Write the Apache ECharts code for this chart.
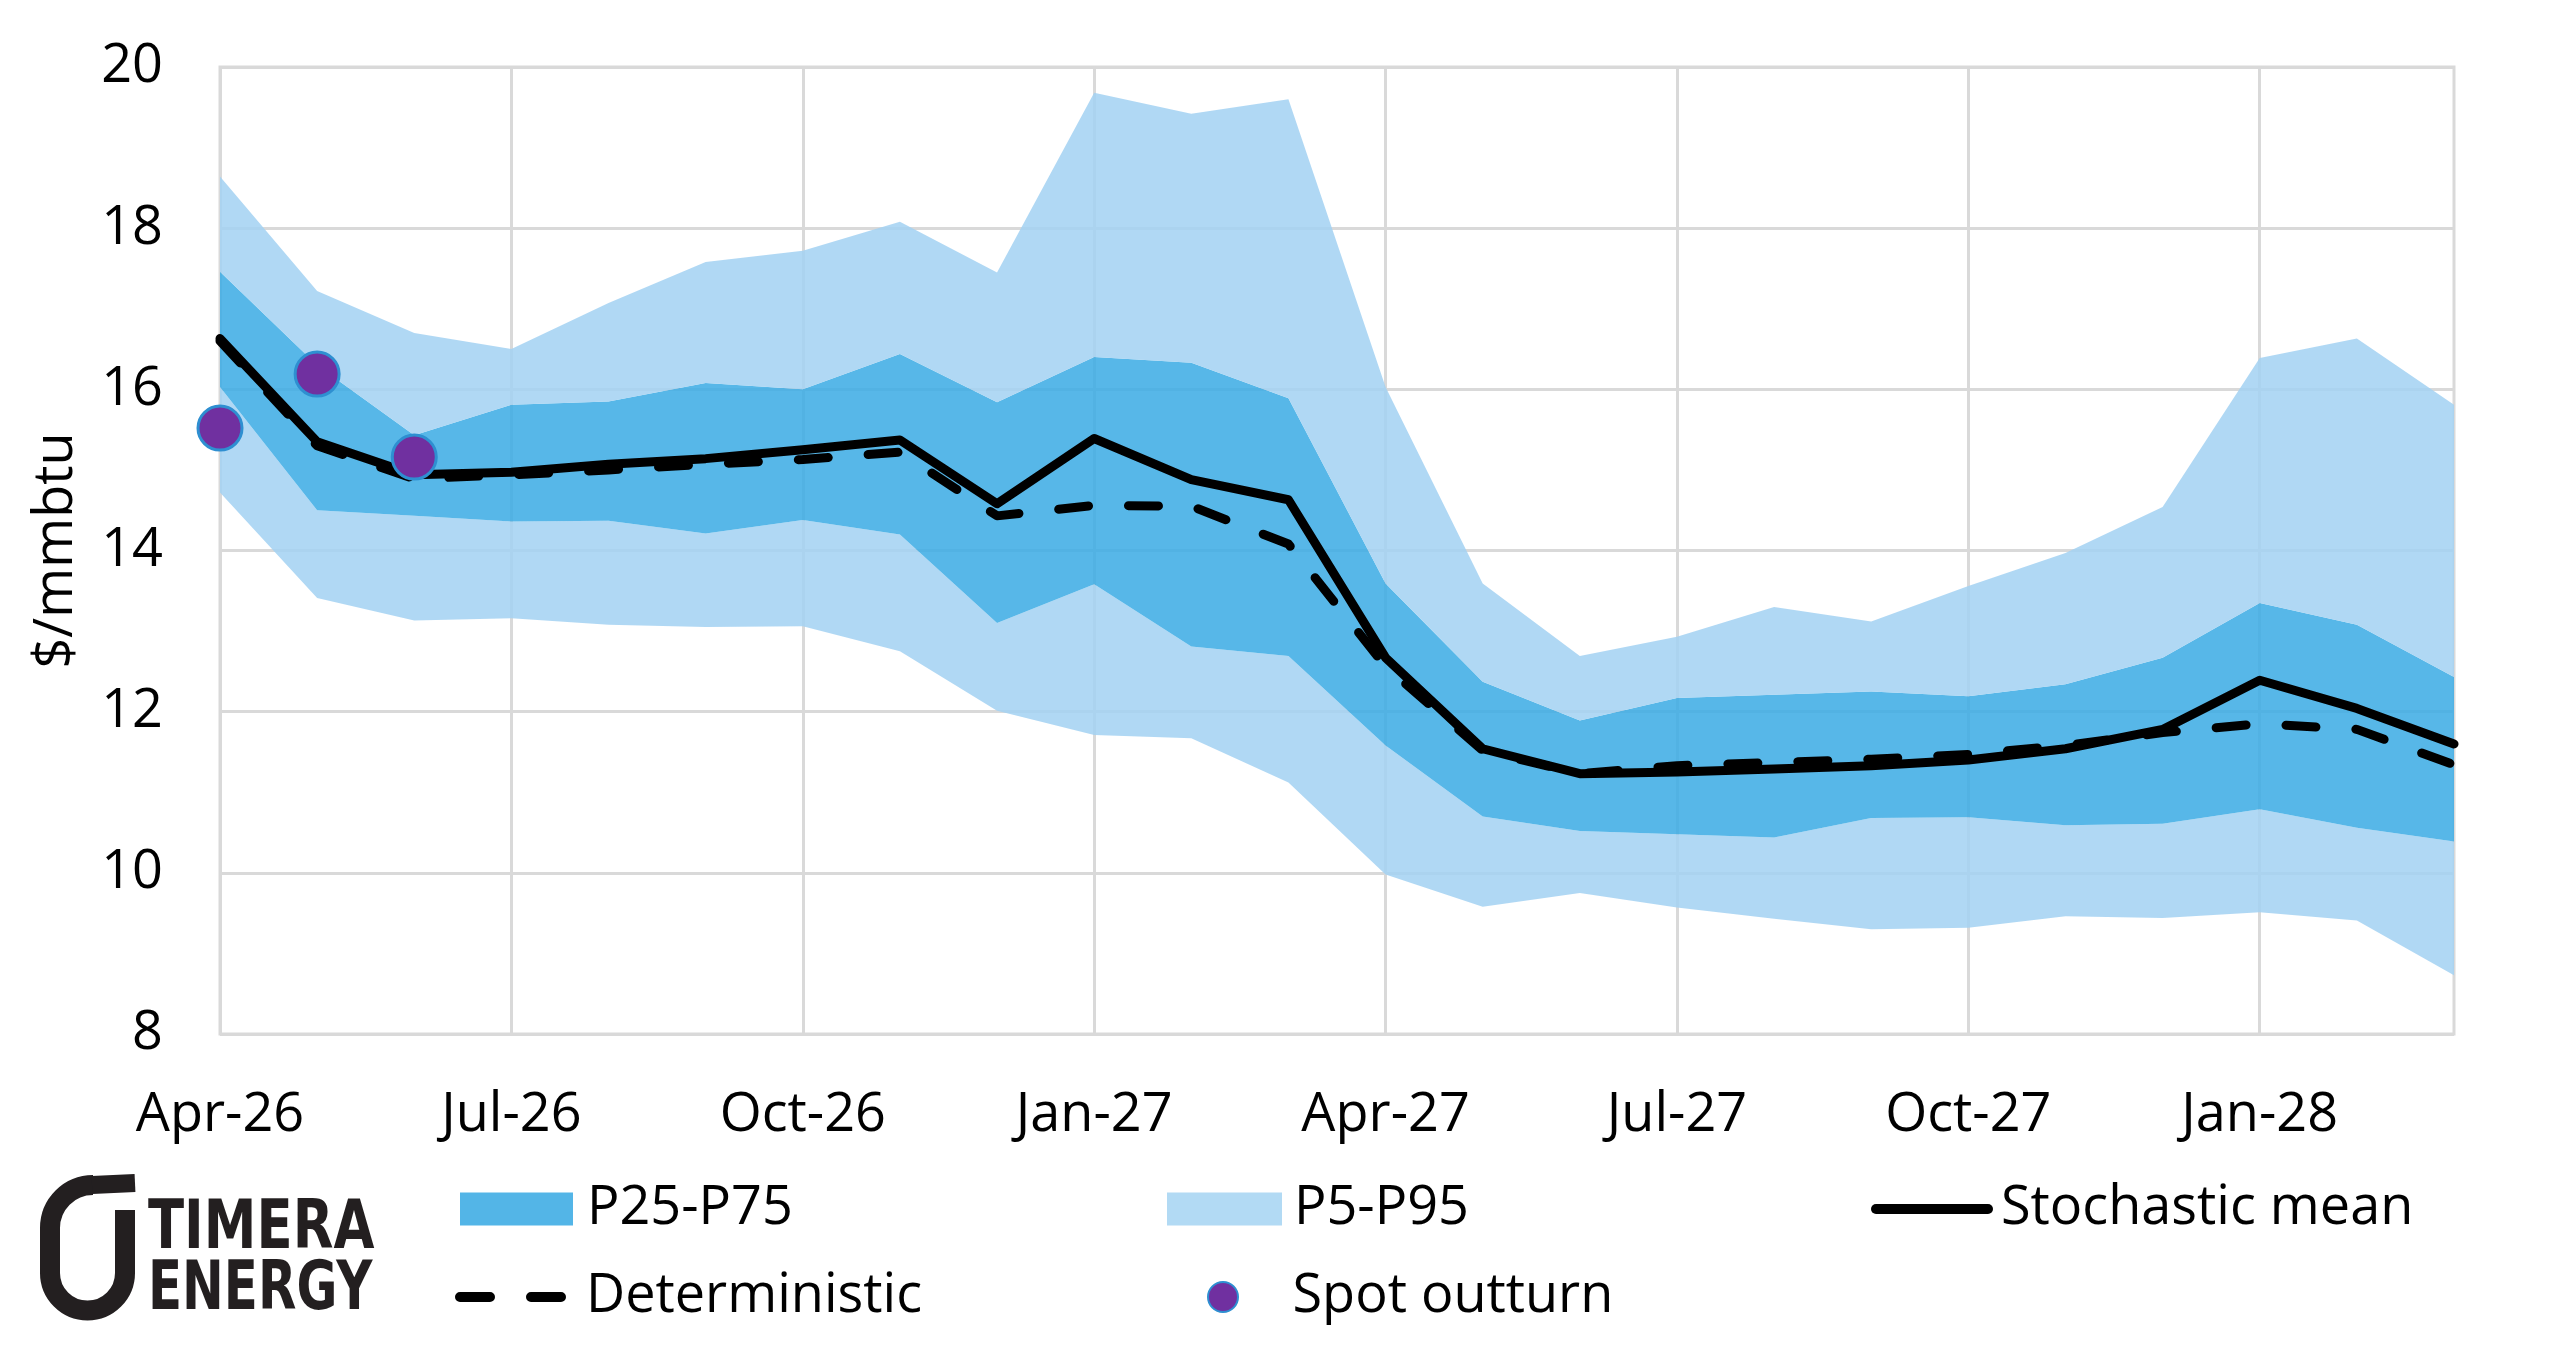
<!DOCTYPE html>
<html>
<head>
<meta charset="utf-8">
<title>Gas price forecast bands</title>
<script src="https://cdn.jsdelivr.net/npm/echarts@6/dist/echarts.min.js"></script>
<style>
  html, body { margin: 0; padding: 0; background: #fff; }
  #chart { width: 2560px; height: 1369px; }
</style>
</head>
<body>
<div id="chart"></div>
<script>
// monthly contract months
var months = ['Apr-26', 'May-26', 'Jun-26', 'Jul-26', 'Aug-26', 'Sep-26', 'Oct-26', 'Nov-26',
    'Dec-26', 'Jan-27', 'Feb-27', 'Mar-27', 'Apr-27', 'May-27', 'Jun-27', 'Jul-27',
    'Aug-27', 'Sep-27', 'Oct-27', 'Nov-27', 'Dec-27', 'Jan-28', 'Feb-28', 'Mar-28'];

// percentiles ($/mmbtu)
var p5 = [14.72, 13.41, 13.13, 13.16, 13.08, 13.05, 13.06, 12.75, 12.01, 11.71, 11.67, 11.12,
    9.98, 9.58, 9.75, 9.57, 9.43, 9.30, 9.32, 9.46, 9.44, 9.51, 9.41, 8.73];
var p25 = [16.03, 14.50, 14.43, 14.36, 14.37, 14.21, 14.38, 14.20, 13.10, 13.58, 12.81, 12.69,
    11.58, 10.70, 10.52, 10.48, 10.44, 10.68, 10.69, 10.59, 10.61, 10.79, 10.56, 10.39];
var p75 = [17.46, 16.30, 15.43, 15.81, 15.85, 16.08, 16.00, 16.44, 15.84, 16.40, 16.33, 15.89,
    13.59, 12.37, 11.89, 12.17, 12.21, 12.25, 12.19, 12.34, 12.67, 13.35, 13.08, 12.43];
var p95 = [18.64, 17.22, 16.70, 16.50, 17.07, 17.58, 17.72, 18.08, 17.45, 19.68, 19.42, 19.60,
    16.03, 13.59, 12.69, 12.93, 13.30, 13.12, 13.56, 13.97, 14.54, 16.39, 16.63, 15.81];

var stochMean = [16.63, 15.35, 14.94, 14.97, 15.07, 15.14, 15.25, 15.37, 14.58, 15.39, 14.88, 14.63,
    12.67, 11.54, 11.23, 11.25, 11.29, 11.33, 11.40, 11.54, 11.78, 12.39, 12.04, 11.60];
var determ = [16.60, 15.30, 14.89, 14.94, 15.00, 15.07, 15.13, 15.22, 14.43, 14.56, 14.55, 14.08,
    12.56, 11.52, 11.23, 11.33, 11.37, 11.41, 11.47, 11.58, 11.74, 11.85, 11.78, 11.34];

var spotMonths = ['Apr-26', 'May-26', 'Jun-26'];
var spotValues = [15.52, 16.19, 15.16];

var yTicks = [8, 10, 12, 14, 16, 18, 20];

function diff(a, b) {
    var out = [];
    for (var i = 0; i < a.length; i++) {
        out.push(+(a[i] - b[i]).toFixed(3));
    }
    return out;
}

var spotData = [];
for (var k = 0; k < spotMonths.length; k++) {
    spotData.push([spotMonths[k], spotValues[k]]);
}

var FONT = '"Open Sans", "Noto Sans", sans-serif';
var FS = 54;
var darkBlue = '#53B5E7', lightBlue = '#B2DAF4';
var gridGrey = '#D9D9D9';
var logoInk = '#231F20';

// legend icons for the two black lines (solid bar, two rounded dashes)
var solidIcon = 'path://M5,0 H117 A5,5 0 0 1 117,10 H5 A5,5 0 0 1 5,0 Z';
var dashIcon = 'path://M5,0 H35 A5,5 0 0 1 35,10 H5 A5,5 0 0 1 5,0 Z M76,0 H106 A5,5 0 0 1 106,10 H76 A5,5 0 0 1 76,0 Z';

var myChart = echarts.init(document.getElementById('chart'));

function bandSeries(name, data, fill, shown) {
    return {
        name: name, type: 'line', stack: 'band', data: data,
        symbol: 'none', silent: true, smooth: false,
        lineStyle: {width: 0, opacity: 0},
        itemStyle: {color: shown},
        areaStyle: fill ? {color: fill, opacity: 0.86} : null,
        z: 2
    };
}

var legendBase = {
    orient: 'horizontal', padding: 0, itemGap: 0, selectedMode: false,
    textStyle: {fontFamily: FONT, fontSize: FS, color: '#000'}
};

function legendAt(name, left, top, w, h, icon, padLeft) {
    return echarts.util.merge({
        left: left, top: top, itemWidth: w, itemHeight: h,
        data: [{name: name, icon: icon}],
        textStyle: {padding: [0, 0, 0, padLeft]}
    }, legendBase, false);
}

var option = {
    backgroundColor: '#fff',
    animation: false,
    grid: {
        left: 220, right: 106, top: 67, bottom: 335,
        show: true, borderColor: gridGrey, borderWidth: 3, backgroundColor: 'transparent'
    },
    xAxis: {
        type: 'category',
        data: months,
        boundaryGap: false,
        axisLine: {show: false},
        axisTick: {show: false},
        axisLabel: {
            interval: 2, margin: 55,
            fontFamily: FONT, fontSize: FS, color: '#000'
        },
        splitLine: {show: true, interval: 2, lineStyle: {color: gridGrey, width: 3}}
    },
    yAxis: {
        type: 'value',
        min: yTicks[0], max: yTicks[yTicks.length - 1], interval: 2,
        name: '$/mmbtu',
        nameLocation: 'middle',
        nameRotate: 90,
        nameGap: 136,
        nameTextStyle: {fontFamily: FONT, fontSize: FS, color: '#000'},
        axisLine: {show: false},
        axisTick: {show: false},
        axisLabel: {margin: 57, fontFamily: FONT, fontSize: FS, color: '#000'},
        splitLine: {show: true, lineStyle: {color: gridGrey, width: 3}}
    },
    legend: [
        legendAt('P25-P75', 460, 1182, 113, 33, 'rect', 9),
        legendAt('P5-P95', 1167, 1182, 115, 33, 'rect', 7),
        legendAt('Stochastic mean', 1871, 1182, 122, 10, solidIcon, 3),
        legendAt('Deterministic', 455, 1270, 111, 10, dashIcon, 15),
        legendAt('Spot outturn', 1207, 1270, 115, 30, 'circle', 7)
    ],
    series: [
        bandSeries('base', p5, null, 'transparent'),
        bandSeries('P5-P95', diff(p25, p5), '#A3D2F2', lightBlue),
        bandSeries('P25-P75', diff(p75, p25), '#3BABE4', darkBlue),
        bandSeries('P5-P95', diff(p95, p75), '#A3D2F2', lightBlue),
        {
            name: 'Deterministic', type: 'line', data: determ,
            symbol: 'none', z: 4,
            itemStyle: {color: '#000'},
            lineStyle: {color: '#000', width: 9, type: [30, 40], cap: 'round', join: 'round'}
        },
        {
            name: 'Stochastic mean', type: 'line', data: stochMean,
            symbol: 'none', z: 5,
            itemStyle: {color: '#000'},
            lineStyle: {color: '#000', width: 9, cap: 'round', join: 'round'}
        },
        {
            name: 'Spot outturn', type: 'scatter', data: spotData,
            symbol: 'circle', symbolSize: 44, z: 6,
            itemStyle: {color: '#7030A0', borderColor: '#2E8FD1', borderWidth: 3, opacity: 1}
        }
    ],
    // company logo, bottom left
    graphic: [
        {type: 'arc', silent: true, shape: {cx: 87.5, cy: 1273, r: 37.5, startAngle: 0, endAngle: Math.PI, clockwise: true},
            style: {stroke: logoInk, lineWidth: 20, fill: null}},
        {type: 'line', silent: true, shape: {x1: 50, y1: 1274, x2: 50, y2: 1228},
            style: {stroke: logoInk, lineWidth: 20}},
        {type: 'line', silent: true, shape: {x1: 125, y1: 1274, x2: 125, y2: 1210},
            style: {stroke: logoInk, lineWidth: 20}},
        {type: 'arc', silent: true, shape: {cx: 93, cy: 1228, r: 43, startAngle: Math.PI, endAngle: Math.PI * 1.5, clockwise: true},
            style: {stroke: logoInk, lineWidth: 20, fill: null}},
        {type: 'line', silent: true, shape: {x1: 92, y1: 1185, x2: 135, y2: 1183},
            style: {stroke: logoInk, lineWidth: 18}},
        {type: 'text', silent: true, x: 148, y: 1231, scaleX: 0.79,
            style: {text: 'TIMERA', x: 0, y: 0, fill: logoInk,
                font: 'bold 67px "DejaVu Sans"', verticalAlign: 'middle'}},
        {type: 'text', silent: true, x: 148, y: 1292, scaleX: 0.745,
            style: {text: 'ENERGY', x: 0, y: 0, fill: logoInk,
                font: 'bold 67px "DejaVu Sans"', verticalAlign: 'middle'}}
    ]
};

myChart.setOption(option);
</script>
</body>
</html>
